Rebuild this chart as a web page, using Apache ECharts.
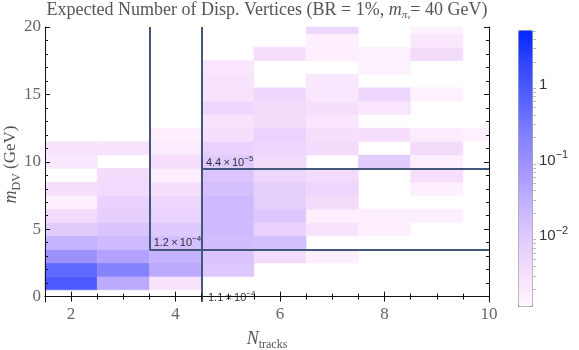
<!DOCTYPE html>
<html>
<head>
<meta charset="utf-8">
<script src="https://cdn.jsdelivr.net/npm/echarts@6/dist/echarts.min.js"></script>
<style>
html, body { margin: 0; padding: 0; background: #fff; }
#main { width: 579px; height: 350px; }
</style>
</head>
<body>
<div id="main"></div>
<script>
// bins: N_tracks columns, m_DV rows (GeV), value 0 = empty cell
var tracksBins = [2, 3, 4, 5, 6, 7, 8, 9, 10];
var massBins = [1, 2, 3, 4, 5, 6, 7, 8, 9, 10, 11, 12, 13, 14, 15, 16, 17, 18, 19, 20];

var tracks2  = [0.9, 0.5, 0.1, 0.027, 0.009, 0.0042, 0.0016, 0.0035, 0, 0.0023, 0.0028, 0, 0, 0, 0, 0, 0, 0, 0, 0];
var tracks3  = [0.037, 0.19, 0.05, 0.02, 0.0125, 0.0074, 0.0063, 0.0042, 0.004, 0, 0.0028, 0, 0, 0, 0, 0, 0, 0, 0, 0];
var tracks4  = [0.0028, 0.037, 0.027, 0.015, 0.0098, 0.0063, 0.005, 0.0035, 0.0016, 0.0035, 0.0019, 0.0016, 0, 0, 0, 0, 0, 0, 0, 0];
var tracks5  = [0, 0.011, 0.0125, 0.017, 0.02, 0.02, 0.02, 0.015, 0.012, 0.0098, 0.0063, 0.0035, 0.0028, 0.005, 0.0028, 0.0028, 0.0025, 0, 0, 0];
var tracks6  = [0, 0, 0.004, 0.015, 0.0063, 0.011, 0.0074, 0.0074, 0.005, 0.004, 0.005, 0.0063, 0.004, 0.004, 0.005, 0, 0, 0.0035, 0, 0];
var tracks7  = [0, 0, 0.0016, 0, 0.0028, 0.0016, 0.004, 0.005, 0.004, 0, 0.004, 0.0035, 0.0025, 0.0035, 0.0023, 0.0023, 0, 0.0016, 0.0016, 0.005];
var tracks8  = [0, 0, 0, 0, 0.0016, 0.0016, 0, 0, 0, 0.009, 0, 0.0035, 0, 0.0025, 0.005, 0, 0.0015, 0.0015, 0, 0];
var tracks9  = [0, 0, 0, 0, 0, 0.0016, 0, 0.0016, 0.0035, 0.0016, 0.004, 0.0019, 0, 0, 0.0015, 0, 0, 0.004, 0.0023, 0.0015];
var tracks10 = [0, 0, 0, 0, 0, 0, 0, 0, 0, 0, 0, 0.0015, 0, 0, 0, 0, 0, 0, 0, 0];

// cut regions and their expected background
var cutLines = [
  [[3.5, 20], [3.5, 3.5]],
  [[4.5, 20], [4.5, -0.4]],
  [[3.5, 3.5], [10, 3.5]],
  [[4.5, 9.5], [10, 9.5]]
];
var cutLabels = [
  { mant: '4.4', exp: '\u22125', at: [4.58, 9.9] },
  { mant: '1.2', exp: '\u22124', at: [3.58, 3.97] },
  { mant: '1.1', exp: '\u22124', at: [4.62, -0.12] }
];

// tick labels
var xMajorTicks = [2, 4, 6, 8, 10];
var xMinorTicks = [2.5, 3, 3.5, 4.5, 5, 5.5, 6.5, 7, 7.5, 8.5, 9, 9.5];
var yMajorTicks = [0, 5, 10, 15, 20];
var yMinorTicks = [1, 2, 3, 4, 6, 7, 8, 9, 11, 12, 13, 14, 16, 17, 18, 19];
var barMajorTicks = [-2, -1, 0];   // log10 of colour bar value
var barMin = -2.92, barMax = 0.72;
var barColors = ['#fff6fe', '#f6defc', '#dfcafe', '#c4b2ff', '#a494ff', '#8080ff', '#5562ff', '#3446ff', '#0028ff'];
var barMinorTicks = [];
[-3, -2, -1, 0].forEach(function (d) {
  for (var k = 2; k <= 9; k++) {
    var t = d + Math.log10(k);
    if (t > barMin && t < barMax) barMinorTicks.push(t);
  }
});

var columns = [tracks2, tracks3, tracks4, tracks5, tracks6, tracks7, tracks8, tracks9, tracks10];
var cells = [];
columns.forEach(function (col, i) {
  col.forEach(function (v, j) {
    if (v > 0) cells.push([tracksBins[i], massBins[j], Math.log10(v), v]);
  });
});

var serif = 'Liberation Serif';
var sans = 'Liberation Sans';
var frameColor = '#111';
var cutColor = '#43577a';

function renderCell(params, api) {
  var x = api.value(0), y = api.value(1);
  var p0 = api.coord([x - 0.5, y + 0.5]);
  var p1 = api.coord([x + 0.5, y - 0.5]);
  var cs = params.coordSys;
  var rect = echarts.graphic.clipRectByRect(
    { x: p0[0], y: p0[1], width: p1[0] - p0[0], height: p1[1] - p0[1] },
    { x: cs.x, y: cs.y, width: cs.width, height: cs.height });
  if (!rect) return null;
  var c = api.visual('color');
  return { type: 'rect', shape: rect, style: { fill: c, stroke: c, lineWidth: 0.5 } };
}

function tickAxis(dim, pos, ticks, len, withLine) {
  return {
    type: 'value', gridIndex: 0, position: pos, z: 10,
    min: dim === 'x' ? 1.5 : -0.4,
    max: dim === 'x' ? 10 : 20,
    axisLine: { show: withLine, lineStyle: { color: frameColor, width: 1 } },
    axisTick: { show: true, inside: true, length: len, customValues: ticks, lineStyle: { color: frameColor } },
    axisLabel: { show: false },
    splitLine: { show: false }
  };
}

var subRich = {
  it: { fontFamily: serif, fontStyle: 'italic', fontSize: 18, color: '#555', lineHeight: 24 },
  n: { fontFamily: serif, fontSize: 17, color: '#555', lineHeight: 24 },
  sub: { fontFamily: serif, fontSize: 12, color: '#555', lineHeight: 13, verticalAlign: 'bottom' }
};

var xBottom = tickAxis('x', 'bottom', xMajorTicks, 5, true);
xBottom.axisLabel = { show: true, customValues: xMajorTicks, margin: 4, color: '#666', fontFamily: serif, fontSize: 17 };
xBottom.name = '{it|N}{sub|tracks}';
xBottom.nameLocation = 'middle';
xBottom.nameGap = 25;
xBottom.nameMoveOverlap = false;
xBottom.nameTextStyle = { rich: subRich };

var xTop = tickAxis('x', 'top', xMajorTicks, 5, true);
xTop.name = '{n|Expected Number of Disp. Vertices (BR = 1%, }{it|m}{sub|\u03c0}{subsub|v}{n|= 40 GeV)}';
xTop.nameLocation = 'middle';
xTop.nameGap = 6;
xTop.nameMoveOverlap = false;
xTop.nameTextStyle = {
  rich: {
    n: { fontFamily: serif, fontSize: 18, color: '#555', lineHeight: 22 },
    it: { fontFamily: serif, fontStyle: 'italic', fontSize: 18, color: '#555', lineHeight: 22 },
    sub: { fontFamily: serif, fontStyle: 'italic', fontSize: 11, color: '#555', lineHeight: 13, verticalAlign: 'bottom' },
    subsub: { fontFamily: serif, fontStyle: 'italic', fontSize: 7, color: '#555', lineHeight: 6, verticalAlign: 'bottom' }
  }
};

var yLeft = tickAxis('y', 'left', yMajorTicks, 5, true);
yLeft.axisLabel = { show: true, customValues: yMajorTicks, margin: 4, color: '#666', fontFamily: serif, fontSize: 17 };
yLeft.name = '{it|m}{sub|DV}{n| (GeV)}';
yLeft.nameLocation = 'middle';
yLeft.nameGap = 22;
yLeft.nameMoveOverlap = false;
yLeft.nameTextStyle = { rich: subRich };

var yRight = tickAxis('y', 'right', yMajorTicks, 5, true);

var labelRich = {
  m: { fontFamily: sans, fontSize: 11, color: '#000', lineHeight: 17 },
  e: { fontFamily: sans, fontSize: 8, color: '#000', lineHeight: 9, verticalAlign: 'top' }
};

var myChart = echarts.init(document.getElementById('main'));

var option = {
  animation: false,
  grid: [
    { left: 45, top: 27, width: 444, height: 275, outerBoundsMode: 'none', containLabel: false },
    { left: 518, top: 30, width: 14, height: 276, outerBoundsMode: 'none', containLabel: false }
  ],
  xAxis: [
    xBottom,
    tickAxis('x', 'bottom', xMinorTicks, 3, false),
    xTop,
    tickAxis('x', 'top', xMinorTicks, 3, false),
    { type: 'value', gridIndex: 1, show: false, min: 0, max: 1 }
  ],
  yAxis: [
    yLeft,
    tickAxis('y', 'left', yMinorTicks, 3, false),
    yRight,
    tickAxis('y', 'right', yMinorTicks, 3, false),
    {
      type: 'value', gridIndex: 1, position: 'right', min: barMin, max: barMax,
      axisLine: { show: false },
      axisTick: { show: true, length: 4, customValues: barMajorTicks, lineStyle: { color: '#aaa' } },
      axisLabel: {
        show: true, customValues: barMajorTicks, margin: 7,
        formatter: function (v) {
          return v === 0 ? '{m|1}' : '{m|10}{e|' + String(v).replace('-', '\u2212') + '}';
        },
        rich: {
          m: { fontFamily: sans, fontSize: 15, color: '#333', lineHeight: 22 },
          e: { fontFamily: sans, fontSize: 11, color: '#333', lineHeight: 12, verticalAlign: 'top' }
        }
      },
      splitLine: { show: false }
    },
    {
      type: 'value', gridIndex: 1, position: 'right', min: barMin, max: barMax,
      axisLine: { show: false },
      axisTick: { show: true, length: 4, customValues: barMinorTicks, lineStyle: { color: '#bbb' } },
      axisLabel: { show: false },
      splitLine: { show: false }
    }
  ],
  visualMap: {
    type: 'continuous',
    seriesIndex: 0,
    dimension: 2,
    min: barMin,
    max: barMax,
    calculable: false,
    orient: 'vertical',
    left: 518,
    top: 30,
    itemWidth: 14,
    itemHeight: 276,
    padding: 0,
    borderColor: '#999',
    borderWidth: 1,
    inRange: { color: barColors }
  },
  series: [
    {
      type: 'custom',
      xAxisIndex: 0, yAxisIndex: 0,
      renderItem: renderCell,
      data: cells,
      z: 1,
      silent: true
    },
    {
      type: 'line',
      xAxisIndex: 0, yAxisIndex: 0,
      data: [],
      z: 3,
      markLine: {
        silent: true,
        symbol: ['none', 'none'],
        label: { show: false },
        data: [[
          { coord: [1.5, 0], lineStyle: { color: '#cccccc', width: 1, type: 'solid' } },
          { coord: [10, 0] }
        ]].concat(cutLines.map(function (seg) {
          return [
            { coord: seg[0], lineStyle: { color: cutColor, width: 2, type: 'solid' } },
            { coord: seg[1] }
          ];
        }))
      }
    },
    {
      type: 'scatter',
      xAxisIndex: 0, yAxisIndex: 0,
      symbolSize: 0,
      z: 4,
      silent: true,
      data: cutLabels.map(function (c) { return { value: c.at, mant: c.mant, exp: c.exp }; }),
      label: {
        show: true,
        position: 'right',
        distance: 0,
        formatter: function (p) {
          return '{m|' + p.data.mant + '\u2009\u00d7\u200910}{e|' + p.data.exp + '}';
        },
        rich: labelRich
      }
    }
  ]
};

myChart.setOption(option);
window.onresize = function () {
  myChart.resize();
};
</script>
</body>
</html>
